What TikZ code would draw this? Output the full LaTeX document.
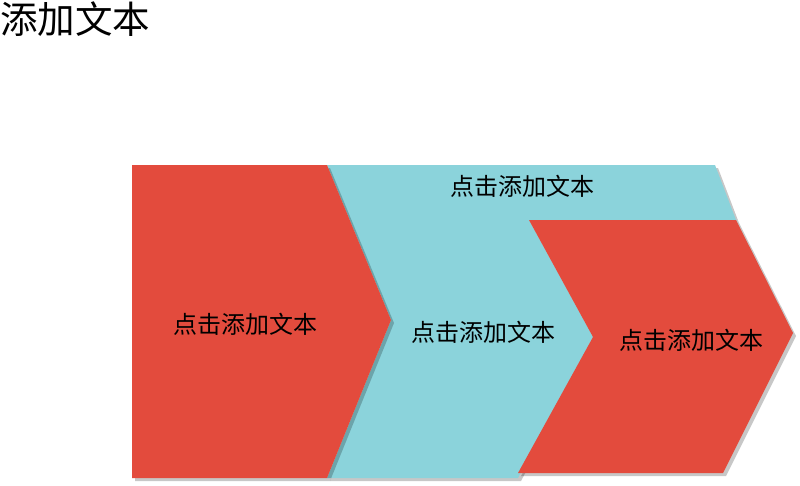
\documentclass[tikz,border=0pt]{standalone}
\usepackage{fontspec}
\setmainfont{Noto Sans CJK SC}
\usetikzlibrary{shadows}

\definecolor{arrowred}{HTML}{E34B3D}
\definecolor{arrowcyan}{HTML}{8BD3DB}

\begin{document}
\begin{tikzpicture}[
    x=1pt, y=-1pt,
    arrowbox/.style={draw=none, drop shadow={shadow xshift=3pt, shadow yshift=-3pt,
        fill=black, opacity=0.22}},
    label/.style={rectangle, draw=none, fill=none, text centered, text=black,
        font=\fontsize{24pt}{28pt}\selectfont},
    title/.style={rectangle, draw=none, fill=none, anchor=west, text=black,
        inner sep=0pt, font=\fontsize{37.5pt}{42pt}\selectfont}
]
\useasboundingbox[fill=white] (0,0) rectangle (800,485);

% middle band, behind the two red arrows
\fill[arrowbox, arrowcyan] (327,165) -- (715,165) -- (736,220) -- (529,220)
    -- (593,337) -- (518,478) -- (327,478) -- (391,320) -- cycle;
% first arrow
\fill[arrowbox, arrowred] (132,165) -- (327,165) -- (391,320) -- (327,478)
    -- (132,478) -- cycle;
% last arrow
\fill[arrowbox, arrowred] (529,220) -- (736,220) -- (793,333) -- (723,473)
    -- (518,473) -- (593,337) -- cycle;

\node (Title) [title] at (0,19) {添加文本};
\node (L1) [label] at (245,324) {点击添加文本};
\node (L2) [label] at (522,186) {点击添加文本};
\node (L3) [label] at (483,332) {点击添加文本};
\node (L4) [label] at (691,340) {点击添加文本};

\end{tikzpicture}
\end{document}
